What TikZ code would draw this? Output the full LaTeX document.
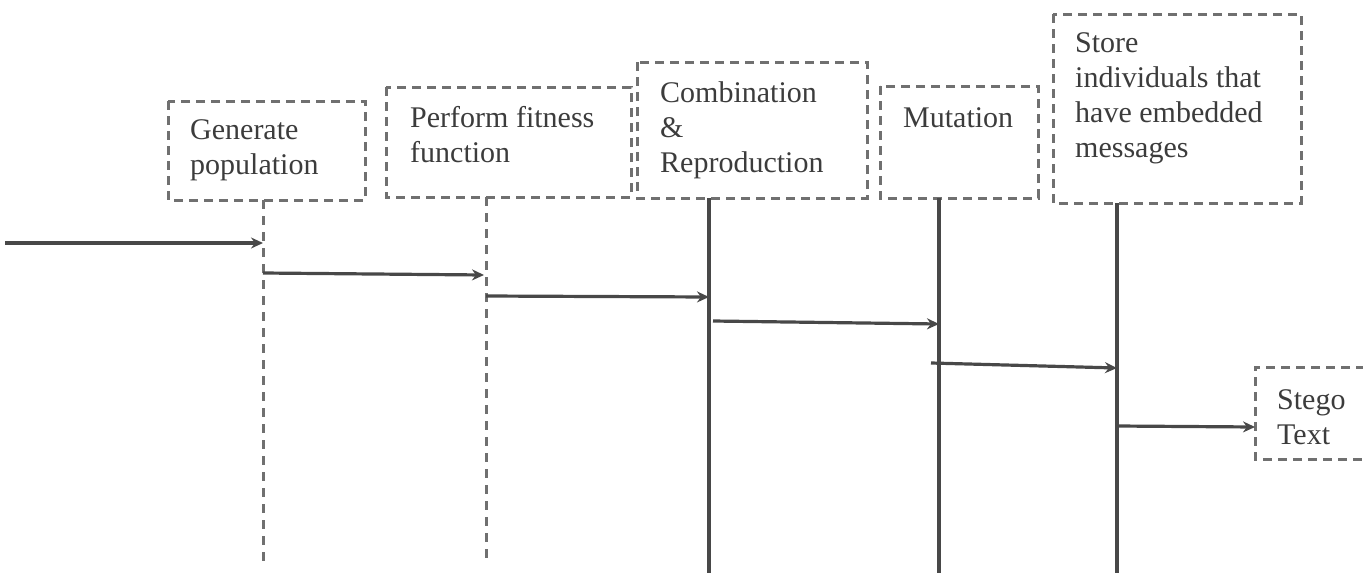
\documentclass[tikz,border=0pt]{standalone}
\usepackage{fontspec}
\setmainfont{Liberation Serif}
\usetikzlibrary{arrows.meta}
\definecolor{inkline}{HTML}{484848}
\definecolor{inkdash}{HTML}{707070}
\definecolor{inktext}{HTML}{3c3c3c}
\tikzset{
  stage/.style={draw=inkdash, line width=3pt, dash pattern=on 9pt off 6pt},
  label/.style={anchor=base west, inner sep=0pt, text=inktext,
    font=\fontsize{30}{35}\selectfont},
  lifedash/.style={draw=inkdash, line width=3pt, dash pattern=on 9pt off 7pt},
  lifesolid/.style={draw=inkline, line width=3.2pt},
  msg/.style={draw=inkline, line width=3.2pt, -{Stealth[length=12pt,width=11pt]}},
}
\newcommand{\lines}[1]{\begin{tabular}[t]{@{}l@{}}#1\end{tabular}}
\begin{document}
\begin{tikzpicture}[x=1pt,y=-1pt]
\useasboundingbox (0,0) rectangle (1363,573);
\clip (0,0) rectangle (1363,573);

% stage boxes
\draw[stage] (168,101) rectangle (365,200) coordinate (b1);
\draw[stage] (386,87) rectangle (631,197) coordinate (b2);
\draw[stage] (637,62) rectangle (867,198) coordinate (b3);
\draw[stage] (880,86) rectangle (1038,198) coordinate (b4);
\draw[stage] (1053,14) rectangle (1301,203) coordinate (b5);
\draw[stage] (1380,367) -- (1255,367) -- (1255,459) -- (1380,459);

% box texts
\node[label] (t1) at (190,139) {\lines{Generate\\population}};
\node[label] (t2) at (410,127) {\lines{Perform fitness\\function}};
\node[label] (t3) at (660,102) {\lines{Combination\\\&\\Reproduction}};
\node[label] (t4) at (903,127) {Mutation};
\node[label] (t5) at (1075,52) {\lines{Store\\individuals that\\have embedded\\messages}};
\node[label] (t6) at (1277,409) {\lines{Stego\\Text}};

% lifelines
\coordinate (l1t) at (263,200); \coordinate (l1b) at (263,562);
\coordinate (l2t) at (486,197); \coordinate (l2b) at (486,562);
\coordinate (l3t) at (709,198); \coordinate (l3b) at (709,573);
\coordinate (l4t) at (939,198); \coordinate (l4b) at (939,573);
\coordinate (l5t) at (1117,203); \coordinate (l5b) at (1117,573);
\draw[lifedash] (l1t) -- (l1b);
\draw[lifedash] (l2t) -- (l2b);
\draw[lifesolid] (l3t) -- (l3b);
\draw[lifesolid] (l4t) -- (l4b);
\draw[lifesolid] (l5t) -- (l5b);

% messages between lifelines
\coordinate (in) at (5,243);
\coordinate (m1e) at (263,243);
\coordinate (m2s) at (263,273); \coordinate (m2e) at (484,275);
\coordinate (m3s) at (486,296); \coordinate (m3e) at (709,297);
\coordinate (m4s) at (713,321); \coordinate (m4e) at (939,324);
\coordinate (m5s) at (931,363); \coordinate (m5e) at (1117,368);
\coordinate (m6s) at (1117,426); \coordinate (m6e) at (1255,427);
\draw[msg] (in) -- (m1e);
\draw[msg] (m2s) -- (m2e);
\draw[msg] (m3s) -- (m3e);
\draw[msg] (m4s) -- (m4e);
\draw[msg] (m5s) -- (m5e);
\draw[msg] (m6s) -- (m6e);
\end{tikzpicture}
\end{document}
